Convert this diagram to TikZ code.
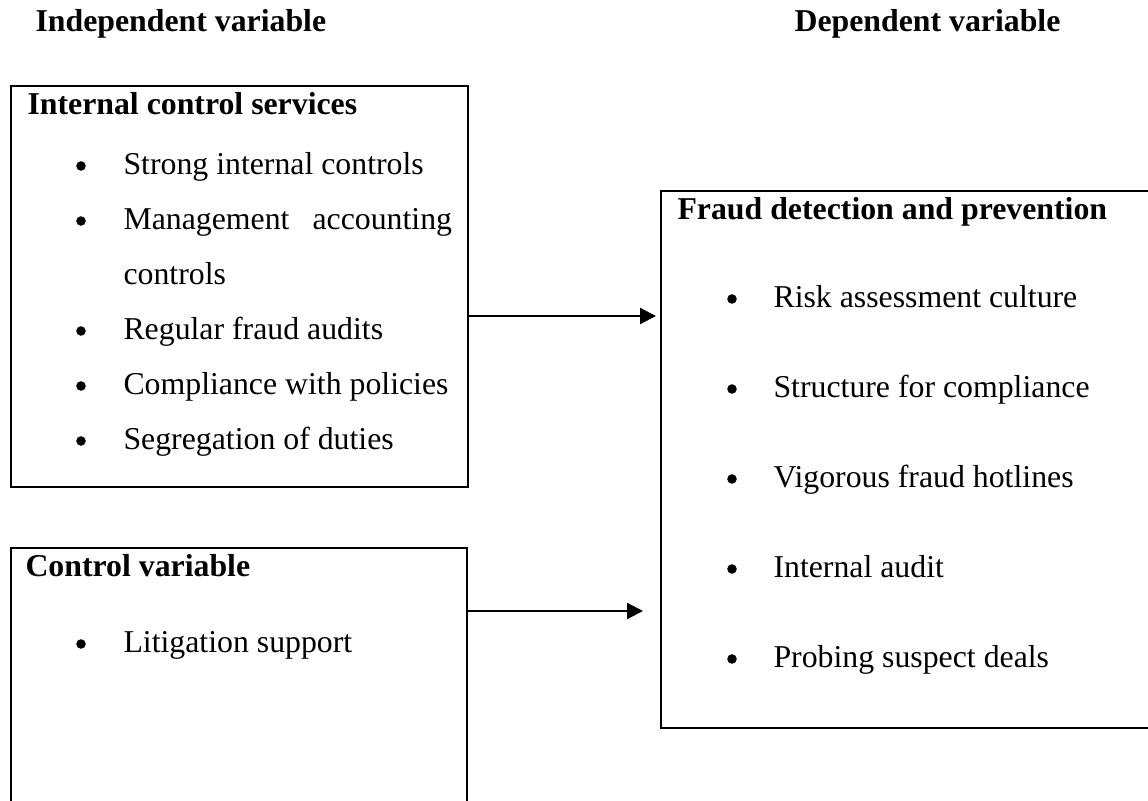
\documentclass[tikz,border=0pt]{standalone}
\usepackage{fontspec}
\setmainfont{Liberation Serif}
\usetikzlibrary{arrows.meta,fit}

\newcommand{\bodyfont}{\fontsize{12pt}{14pt}\selectfont}

\tikzset{
  box/.style={draw, line width=0.8pt, inner sep=0pt},
  head/.style={anchor=base west, inner sep=0pt, font=\bodyfont\bfseries},
  item/.style={anchor=base west, inner sep=0pt, font=\bodyfont},
  dot/.style={circle, fill, inner sep=0pt, minimum size=3.6pt},
  arr/.style={-{Triangle[length=6pt,width=6pt]}, line width=0.8pt}
}

\begin{document}
\begin{tikzpicture}[x=0.3774pt, y=-0.3774pt]
\useasboundingbox (0,0) rectangle (1148,801);
\clip (0,0) rectangle (1148,801);

% column headings
\node[head] (indep) at (35,32) {Independent variable};
\node[head] (dep) at (794,32) {Dependent variable};

% boxes
\node[box, fit={(11,86) (468,487)}] (ics) {};
\node[box, fit={(11,548) (467,830)}] (ctrl) {};
\node[box, fit={(661,191) (1170,728)}] (fdp) {};

% internal control services
\node[head] (icsT) at (27,115) {Internal control services};
\node[dot] (icsB1) at (81,166) {};
\node[item] (ics1) at (123,175) {Strong internal controls};
\node[dot] (icsB2) at (81,221) {};
\node[item] (ics2) at (123,230) {\makebox[124pt][s]{Management accounting}};
\node[item] (ics2b) at (123,285) {controls};
\node[dot] (icsB3) at (81,331) {};
\node[item] (ics3) at (123,340) {Regular fraud audits};
\node[dot] (icsB4) at (81,386) {};
\node[item] (ics4) at (123,395) {Compliance with policies};
\node[dot] (icsB5) at (81,441) {};
\node[item] (ics5) at (123,450) {Segregation of duties};

% control variable
\node[head] (ctrlT) at (25,577) {Control variable};
\node[dot] (ctrlB1) at (81,644) {};
\node[item] (ctrl1) at (123,653) {Litigation support};

% fraud detection and prevention
\node[head] (fdpT) at (677,220) {Fraud detection and prevention};
\node[dot] (fdpB1) at (732,299) {};
\node[item] (fdp1) at (773,308) {Risk assessment culture};
\node[dot] (fdpB2) at (732,389) {};
\node[item] (fdp2) at (773,398) {Structure for compliance};
\node[dot] (fdpB3) at (732,479) {};
\node[item] (fdp3) at (773,488) {Vigorous fraud hotlines};
\node[dot] (fdpB4) at (732,569) {};
\node[item] (fdp4) at (773,578) {Internal audit};
\node[dot] (fdpB5) at (732,659) {};
\node[item] (fdp5) at (773,668) {Probing suspect deals};

% arrows
\coordinate (a1) at (656,316);
\coordinate (a2) at (643,611);
\draw[arr] (ics.east |- a1) -- (a1);
\draw[arr] (ctrl.east |- a2) -- (a2);
\end{tikzpicture}
\end{document}
